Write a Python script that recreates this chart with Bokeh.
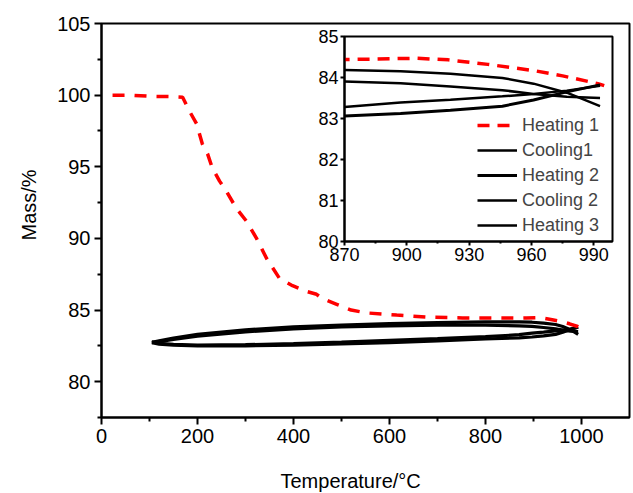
from bokeh.plotting import figure
from bokeh.models import FixedTicker, Legend, LegendItem, Title, Label, Range1d
from bokeh.layouts import column
from bokeh.embed import file_html
from bokeh.resources import INLINE

FONT = "Liberation Sans"

# ---------------- data ----------------
heat1_T = [23, 60, 100, 140, 169, 183, 198, 210, 221, 231, 246, 260, 281, 302, 323, 344,
           371, 398, 427, 448, 460, 490, 520, 552, 615, 683, 752, 823, 870, 885, 905, 920,
           939, 961, 975, 992, 995]
heat1_M = [100.0, 100.0, 99.92, 99.9, 99.85, 98.9, 98.0, 96.6, 95.9, 94.9, 94.0, 93.3,
           92.1, 91.2, 90.0, 88.6, 87.2, 86.7, 86.3, 86.1, 85.8, 85.4, 85.0, 84.8, 84.65,
           84.5, 84.45, 84.45, 84.44, 84.45, 84.47, 84.43, 84.32, 84.17, 84.04, 83.85, 83.8]

cool_T = [993, 977, 961, 946, 921, 897, 870, 800, 700, 600, 500, 400, 300, 200, 150, 120, 105]
cool1_M = [83.3, 83.63, 83.85, 83.99, 84.09, 84.15, 84.18, 84.17, 84.12, 84.05, 83.95,
           83.82, 83.62, 83.3, 83.05, 82.85, 82.75]
cool2_M = [83.5, 83.53, 83.6, 83.69, 83.78, 83.86, 83.9, 83.95, 83.95, 83.9, 83.82,
           83.68, 83.48, 83.18, 82.95, 82.8, 82.72]

heat_T = [105, 120, 150, 200, 300, 400, 500, 600, 700, 800, 870, 897, 921, 946, 961, 977, 993]
heat2_M = [82.72, 82.62, 82.55, 82.5, 82.5, 82.55, 82.63, 82.73, 82.85, 82.98, 83.06,
           83.12, 83.2, 83.3, 83.45, 83.65, 83.82]
heat3_M = [82.78, 82.68, 82.6, 82.56, 82.58, 82.66, 82.76, 82.88, 83.0, 83.14, 83.28,
           83.39, 83.46, 83.54, 83.6, 83.68, 83.8]

main_xticks = [0, 200, 400, 600, 800, 1000]
main_xminor = [100, 300, 500, 700, 900]
main_yticks = [80, 85, 90, 95, 100, 105]
main_yminor = [77.5, 82.5, 87.5, 92.5, 97.5, 102.5]
inset_xticks = [870, 900, 930, 960, 990]
inset_xminor = [885, 915, 945, 975]
inset_yticks = [80, 81, 82, 83, 84, 85]

labels = ["Heating 1", "Cooling1", "Heating 2", "Cooling 2", "Heating 3"]
x_title = "Temperature/°C"
y_title = "Mass/%"


def style_axes(fig, size, tick_out, minor_out, standoff):
    for ax in (fig.xaxis, fig.yaxis):
        ax.axis_line_width = 2
        ax.major_tick_line_width = 2
        ax.minor_tick_line_width = 2
        ax.major_tick_in = 0
        ax.minor_tick_in = 0
        ax.major_tick_out = tick_out
        ax.minor_tick_out = minor_out
        ax.major_label_text_font = FONT
        ax.major_label_text_font_size = size
        ax.major_label_text_color = "black"
        ax.major_label_standoff = standoff
    fig.grid.visible = False
    fig.outline_line_color = "black"
    fig.outline_line_width = 2
    fig.outline_line_alpha = 1
    fig.background_fill_alpha = 0
    fig.border_fill_alpha = 0


# ---------------- main plot ----------------
p = figure(width=633, height=493, x_range=Range1d(0, 1100), y_range=Range1d(77.5, 105),
           output_backend="svg", toolbar_location=None,
           min_border_left=101, min_border_right=4, min_border_top=23, min_border_bottom=76)
style_axes(p, "20px", 7, 4, 4)
p.xaxis.ticker = FixedTicker(ticks=main_xticks, minor_ticks=main_xminor)
p.yaxis.ticker = FixedTicker(ticks=main_yticks, minor_ticks=main_yminor)

for T, M in ((cool_T, cool1_M), (heat_T, heat2_M), (cool_T, cool2_M), (heat_T, heat3_M)):
    p.line(T, M, line_color="black", line_width=3.2)
p.line(heat1_T, heat1_M, line_color="red", line_width=3.5, line_dash="12 10")

p.add_layout(Title(text=y_title, align="left", offset=177, vertical_align="bottom",
                   standoff=29, text_font=FONT, text_font_size="20px",
                   text_font_style="normal", text_color="black"), "left")

# ---------------- overlay holding the x-axis title ----------------
o = figure(width=633, height=493, x_range=Range1d(0, 1100), y_range=Range1d(0, 1),
           output_backend="svg", toolbar_location=None,
           x_axis_location=None, y_axis_location=None,
           min_border_left=101, min_border_right=4, min_border_top=0, min_border_bottom=0)
o.grid.visible = False
o.outline_line_color = None
o.background_fill_alpha = 0
o.border_fill_alpha = 0
o.add_layout(Label(x=179, y=13, x_units="screen", y_units="screen", text=x_title,
                   text_font=FONT, text_font_size="20px", text_color="black",
                   text_align="left", text_baseline="alphabetic"))

# ---------------- inset ----------------
q = figure(width=373, height=247, x_range=Range1d(870, 999), y_range=Range1d(80, 85),
           output_backend="svg", toolbar_location=None,
           min_border_left=101, min_border_right=4, min_border_top=14, min_border_bottom=28)
style_axes(q, "18px", 4, 2, 2)
q.xaxis.ticker = FixedTicker(ticks=inset_xticks, minor_ticks=inset_xminor)
q.yaxis.ticker = FixedTicker(ticks=inset_yticks, minor_ticks=[])

r1 = q.line(heat1_T, heat1_M, line_color="red", line_width=3.5, line_dash="12 8")
r2 = q.line(cool_T, cool1_M, line_color="black", line_width=2.5)
r3 = q.line(heat_T, heat2_M, line_color="black", line_width=3)
r4 = q.line(cool_T, cool2_M, line_color="black", line_width=2.5)
r5 = q.line(heat_T, heat3_M, line_color="black", line_width=2.5)

legend = Legend(items=[LegendItem(label=l, renderers=[r]) for l, r in zip(labels, [r1, r2, r3, r4, r5])],
                location=(133, 4), padding=0, margin=0, spacing=1, glyph_width=40,
                glyph_height=24, label_height=24, label_standoff=5,
                label_text_font=FONT, label_text_font_size="18px",
                border_line_alpha=0, background_fill_alpha=0)
q.add_layout(legend)

q.margin = (22, 0, -269, 243)
o.margin = (0, 0, -493, 0)
p.margin = (0, 0, 0, 0)

layout = column(q, o, p)
open("out.html", "w").write(file_html(layout, INLINE))
